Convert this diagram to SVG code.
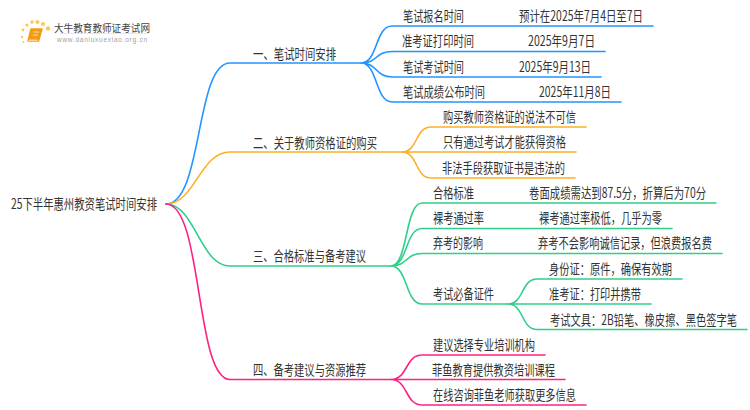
<svg xmlns="http://www.w3.org/2000/svg" width="750" height="410" viewBox="0 0 750 410">
<style>
text{font-family:"Noto Sans CJK SC","Noto Sans",sans-serif;font-size:14px;fill:#333}
.c{fill:none;stroke-width:1.6;stroke-linecap:round}
.b{stroke:#2394ff}.o{stroke:#fdb022}.g{stroke:#2fcf8b}.p{stroke:#ff2083}
.d{fill:#fbc75b}
</style>
<rect width="750" height="410" fill="#fff"/>
<g id="logo">
<circle class="d" cx="48" cy="28.500" r="2.200"/><circle class="d" cx="43" cy="24" r="2"/><circle class="d" cx="37.500" cy="22" r="2"/><circle class="d" cx="32" cy="22" r="1.800"/><circle class="d" cx="27" cy="25" r="1.600"/><circle class="d" cx="23" cy="30" r="1.400"/><circle class="d" cx="22" cy="37" r="1.200"/><circle class="d" cx="23.500" cy="42" r="1"/>
<path d="M31 29H42L38.500 41H28Z" fill="#f59a14" stroke="#f59a14" stroke-width="1.500" stroke-linejoin="round"/><path d="M28 41H38L37 39.500H29Z" fill="#ffd489"/><path d="M33.500 32H39M32.800 35H38" stroke="#ffe0a8" fill="none"/>
<text x="54" y="31.500" textLength="96" lengthAdjust="spacingAndGlyphs" style="font-size:10.500px;fill:#444">大牛教育教师证考试网</text>
<path d="M60 33.500H148" stroke="#e8e8e8"/>
<text x="57" y="41.500" textLength="90" lengthAdjust="spacing" style="font-family:'Liberation Sans',sans-serif;font-size:6.500px;fill:#a0a0a0">www.daniuxuexiao.org.cn</text>
</g>
<g id="connectors">
<path class="c b" d="M166 204C203 204 195 63 230 63H361"/>
<path class="c o" d="M166 204C195 204 200 152 230 152H402"/>
<path class="c g" d="M166 204C195 204 200 266 230 266H391"/>
<path class="c p" d="M166 204C203 204 195 379.500 230 379.500H391"/>
<path class="c b" d="M361 63C378 63 375 26 392 26H653M361 63C378 63 375 51.500 392 51.500H605M361 63C378 63 375 77 392 77H601M361 63C378 63 375 102 392 102H621"/>
<path class="c o" d="M402 152C418 152 415 127 431 127H586M402 152H576M402 152C418 152 415 178 431 178H575"/>
<path class="c g" d="M391 266C408 266 405 203 422 203H716M391 266C408 266 405 228.500 422 228.500H672M391 266C408 266 405 253.500 422 253.500H722M391 266C408 266 405 304 422 304H508"/>
<path class="c g" d="M508 304C524 304 521 279 537 279H682M508 304H651M508 304C524 304 521 329.500 537 329.500H747"/>
<path class="c p" d="M391 379.500C408 379.500 405 355 422 355H545M391 379.500H565M391 379.500C408 379.500 405 405 422 405H586"/>
</g>
<g id="root"><text transform="translate(11 209) scale(.73 1)" textLength="200" lengthAdjust="spacingAndGlyphs">25下半年惠州教资笔试时间安排</text></g>
<g id="n1"><text transform="translate(253 59) scale(.73 1)" textLength="113.700" lengthAdjust="spacingAndGlyphs">一、笔试时间安排</text></g>
<g id="n1-1"><text transform="translate(403 21) scale(.73 1)" textLength="83.600" lengthAdjust="spacingAndGlyphs">笔试报名时间</text><text transform="translate(519 21) scale(.73 1)" textLength="169.900" lengthAdjust="spacingAndGlyphs">预计在2025年7月4日至7日</text></g>
<g id="n1-2"><text transform="translate(402 46) scale(.73 1)" textLength="98.600" lengthAdjust="spacingAndGlyphs">准考证打印时间</text><text transform="translate(528 46) scale(.73 1)" textLength="91.800" lengthAdjust="spacingAndGlyphs">2025年9月7日</text></g>
<g id="n1-3"><text transform="translate(403 72) scale(.73 1)" textLength="83.600" lengthAdjust="spacingAndGlyphs">笔试考试时间</text><text transform="translate(519 72) scale(.73 1)" textLength="98.600" lengthAdjust="spacingAndGlyphs">2025年9月13日</text></g>
<g id="n1-4"><text transform="translate(403 97) scale(.73 1)" textLength="112.300" lengthAdjust="spacingAndGlyphs">笔试成绩公布时间</text><text transform="translate(539 97) scale(.73 1)" textLength="98.600" lengthAdjust="spacingAndGlyphs">2025年11月8日</text></g>
<g id="n2"><text transform="translate(253 148) scale(.73 1)" textLength="169.900" lengthAdjust="spacingAndGlyphs">二、关于教师资格证的购买</text></g>
<g id="n2-1"><text transform="translate(443 122) scale(.73 1)" textLength="182.200" lengthAdjust="spacingAndGlyphs">购买教师资格证的说法不可信</text></g>
<g id="n2-2"><text transform="translate(443 147) scale(.73 1)" textLength="168.500" lengthAdjust="spacingAndGlyphs">只有通过考试才能获得资格</text></g>
<g id="n2-3"><text transform="translate(442 173) scale(.73 1)" textLength="168.500" lengthAdjust="spacingAndGlyphs">非法手段获取证书是违法的</text></g>
<g id="n3"><text transform="translate(253 261) scale(.73 1)" textLength="154.800" lengthAdjust="spacingAndGlyphs">三、合格标准与备考建议</text></g>
<g id="n3-1"><text transform="translate(433 198) scale(.73 1)" textLength="56.200" lengthAdjust="spacingAndGlyphs">合格标准</text><text transform="translate(529 198) scale(.73 1)" textLength="242.500" lengthAdjust="spacingAndGlyphs">卷面成绩需达到87.5分，折算后为70分</text></g>
<g id="n3-2"><text transform="translate(433 223) scale(.73 1)" textLength="69.900" lengthAdjust="spacingAndGlyphs">裸考通过率</text><text transform="translate(539 223) scale(.73 1)" textLength="168.500" lengthAdjust="spacingAndGlyphs">裸考通过率极低，几乎为零</text></g>
<g id="n3-3"><text transform="translate(433 248) scale(.73 1)" textLength="68.500" lengthAdjust="spacingAndGlyphs">弃考的影响</text><text transform="translate(538 248) scale(.73 1)" textLength="238.400" lengthAdjust="spacingAndGlyphs">弃考不会影响诚信记录，但浪费报名费</text></g>
<g id="n3-4"><text transform="translate(433 299) scale(.73 1)" textLength="83.600" lengthAdjust="spacingAndGlyphs">考试必备证件</text></g>
<g id="n3-4-1"><text transform="translate(549 274) scale(.73 1)" textLength="168.500" lengthAdjust="spacingAndGlyphs">身份证：原件，确保有效期</text></g>
<g id="n3-4-2"><text transform="translate(549 299) scale(.73 1)" textLength="126" lengthAdjust="spacingAndGlyphs">准考证：打印并携带</text></g>
<g id="n3-4-3"><text transform="translate(550 325) scale(.73 1)" textLength="256.200" lengthAdjust="spacingAndGlyphs">考试文具：2B铅笔、橡皮擦、黑色签字笔</text></g>
<g id="n4"><text transform="translate(253 375) scale(.73 1)" textLength="154.800" lengthAdjust="spacingAndGlyphs">四、备考建议与资源推荐</text></g>
<g id="n4-1"><text transform="translate(433 350) scale(.73 1)" textLength="139.700" lengthAdjust="spacingAndGlyphs">建议选择专业培训机构</text></g>
<g id="n4-2"><text transform="translate(432 375) scale(.73 1)" textLength="168.500" lengthAdjust="spacingAndGlyphs">菲鱼教育提供教资培训课程</text></g>
<g id="n4-3"><text transform="translate(433 400) scale(.73 1)" textLength="195.900" lengthAdjust="spacingAndGlyphs">在线咨询菲鱼老师获取更多信息</text></g>
</svg>
